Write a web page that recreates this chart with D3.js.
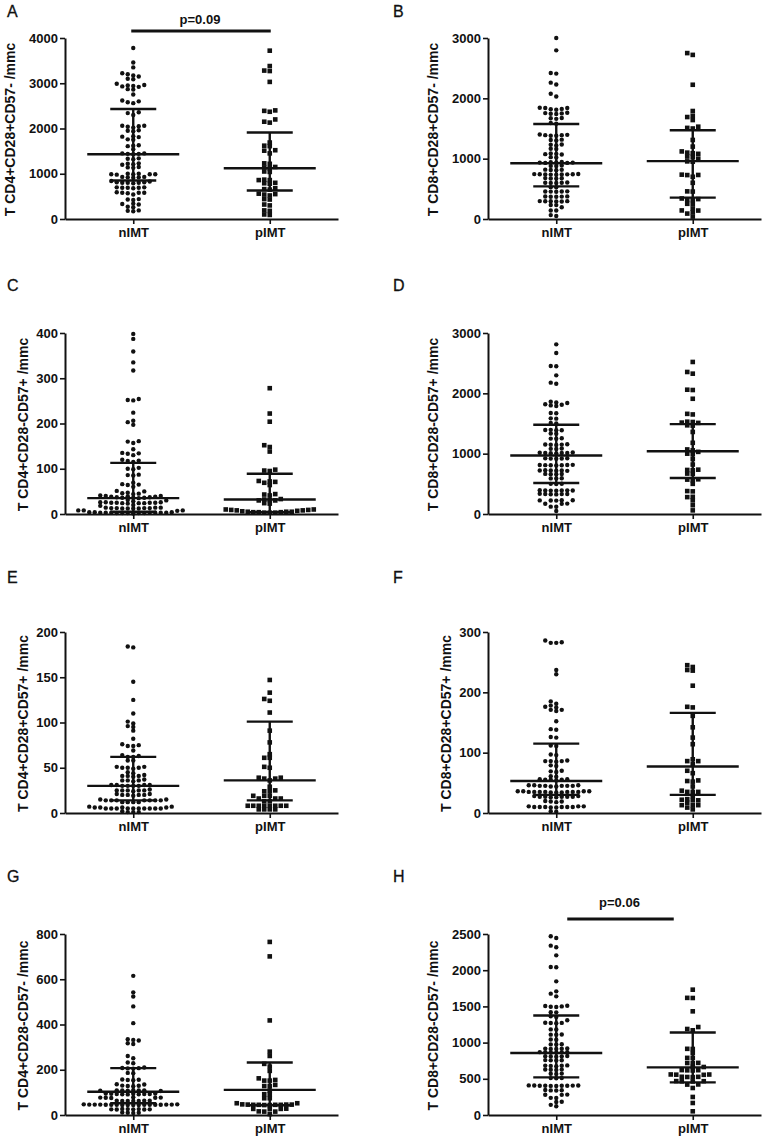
<!DOCTYPE html>
<html><head><meta charset="utf-8">
<script src="https://cdn.jsdelivr.net/npm/d3@7"></script>
<style>
body{margin:0;background:#fff;}
text{font-family:"Liberation Sans",Arial,Helvetica,sans-serif;fill:#111;}
</style>
</head><body>
<svg id="chart" width="764" height="1140"></svg>
<script>
// ---------------- DATA ----------------
const groups = ["nIMT", "pIMT"];
const panelLetters = ["A","B","C","D","E","F","G","H"];
const yTitles = [
  "T CD4+CD28+CD57- /mmc", "T CD8+CD28+CD57- /mmc",
  "T CD4+CD28-CD57+ /mmc", "T CD8+CD28-CD57+ /mmc",
  "T CD4+CD28+CD57+ /mmc", "T CD8+CD28+CD57+ /mmc",
  "T CD4+CD28-CD57- /mmc", "T CD8+CD28-CD57- /mmc"
];
const yMaxima = [4000, 3000, 400, 3000, 200, 300, 800, 2500];
const yTickValues = [
  [0,1000,2000,3000,4000], [0,1000,2000,3000],
  [0,100,200,300,400], [0,1000,2000,3000],
  [0,50,100,150,200], [0,100,200,300],
  [0,200,400,600,800], [0,500,1000,1500,2000,2500]
];
const pValueLabels = ["p=0.09", null, null, null, null, null, null, "p=0.06"];

const nIMT_A = [3780,3460,3350,3220,3200,3170,3150,3100,3090,2990,2960,2950,2940,2930,2920,2870,2860,2750,2620,2600,2580,2560,2360,2340,2300,2060,2060,2050,2040,2020,1960,1950,1940,1830,1820,1810,1760,1750,1630,1620,1610,1540,1450,1440,1440,1430,1450,1340,1330,1320,1230,1220,1210,1200,1150,1140,1130,1000,990,990,980,990,1000,990,930,920,910,920,930,840,830,810,800,800,790,800,810,700,690,690,680,700,690,590,580,580,570,580,540,440,430,420,340,330,320,270,260,190,170,180];
const pIMT_A = [3720,3380,3280,3270,3030,2400,2390,2370,2200,2150,2130,1690,1620,1610,1520,1510,1450,1230,1220,1150,1140,1120,1050,1040,870,860,860,790,780,800,680,660,650,560,550,540,520,430,440,320,300,190,180,90,100];

const nIMT_B = [3000,2795,2420,2410,2260,2230,2075,2030,1840,1820,1845,1825,1840,1810,1750,1755,1740,1760,1745,1670,1675,1660,1590,1580,1390,1400,1380,1395,1390,1380,1310,1300,1315,1230,1235,1220,1160,1165,1080,1085,1075,1070,1020,1025,940,935,930,935,945,930,938,880,885,878,815,818,812,810,740,742,738,745,735,736,741,744,739,675,678,670,672,600,602,598,605,597,525,528,455,458,452,456,454,370,372,368,375,371,295,290,297,293,291,296,230,232,195,140,142,65,50];
const pIMT_B = [2750,2720,2225,1790,1710,1690,1640,1530,1510,1500,1310,1200,1120,1080,1100,1090,1030,1035,1000,950,955,730,735,728,700,600,455,458,340,315,318,330,250,252,175,140,142,110,90,40];

const nIMT_C = [398,387,359,335,317,254,251,252,224,206,203,197,160,157,161,143,135,134,133,130,120,117,118,115,102,99,100,86,87,85,69,66,65,64,60,51,50,47,46,45,44,40,39,38,38,37,37,36,36,36,35,40,41,31,30,28,26,26,25,25,25,24,24,24,23,26,25,20,18,14,14,13,13,13,12,12,12,13,14,12,8,8,7,8,3,3,3,3,3,2,2,2,2,4,4,4,3,3,2,1];
const pIMT_C = [278,222,204,152,148,138,98,95,96,73,69,64,71,72,43,44,41,32,30,31,33,30,23,24,10,9,8,7,6,5,5,5,4,4,4,3,3,3,8,9,10];

const nIMT_D = [2812,2669,2453,2450,2298,2160,2177,1860,1850,1820,1810,1800,1790,1840,1670,1675,1580,1585,1510,1500,1390,1395,1388,1392,1330,1335,1250,1255,1248,1150,1152,1148,1155,1145,1080,1085,1078,1010,1012,1008,1015,1005,1011,1020,920,922,918,925,915,810,812,808,815,805,811,809,720,722,718,725,715,721,660,662,658,665,590,592,588,500,502,498,390,392,388,395,385,391,389,330,332,328,335,325,331,225,227,223,228,222,170,172,168,120,122,50];
const pIMT_D = [2520,2354,2326,2060,2055,1910,1650,1660,1470,1510,1525,1515,1465,1530,1360,1180,1070,1030,1055,990,1000,910,820,730,735,725,670,665,575,560,570,500,380,375,280,285,225,145,60];

const nIMT_E = [183,184,145,125,110,101,99,95,96,91,82,74,74,75,76,69,64,62,62,63,58,58,50,51,49,50,50,51,45,44,41,42,41,40,41,36,36,37,35,36,31,30,31,30,31,30,31,30,25,25,26,25,24,25,25,20,20,19,20,20,21,21,15,14,14,14,14,14,14,14,15,12,12,12,12,7,6,6,5,5,5,5,5,5,5,5,5,5,6,6,7,2,1,1,1];
const pIMT_E = [147,133,124,126,111,91,78,65,61,61,51,50,39,38,38,39,36,29,24,25,24,19,19,19,16,16,16,13,13,8,8,8,8,8,8,8,8,4,4,4,4];

const nIMT_F = [282,282,283,286,237,230,178,175,185,181,176,171,169,171,152,138,139,125,126,111,112,96,97,86,86,87,85,86,78,79,69,70,68,60,61,55,55,56,54,55,56,45,45,46,44,45,46,45,44,45,46,35,35,36,34,35,36,35,34,35,36,35,34,35,36,27,27,28,26,27,28,27,26,27,19,19,20,18,10,10,11,9,10,11,10,9,10,11,10,3,2];
const pIMT_F = [245,237,236,242,211,175,176,161,142,125,114,89,86,81,86,70,66,54,52,53,44,37,35,35,35,28,23,21,22,21,17,13,13,13,9,6];

const nIMT_G = [615,542,524,480,406,335,329,317,314,332,261,251,232,229,207,208,210,206,205,185,186,155,156,154,157,135,136,128,129,127,130,108,109,107,110,106,108,109,107,93,94,92,95,91,93,94,92,93,95,76,77,75,78,76,77,62,63,62,63,62,63,62,45,46,44,47,45,46,44,45,46,45,44,47,45,46,44,45,46,45,25,26,24,27,25,26,24,25,10,11,9,10];
const pIMT_G = [765,701,418,280,261,214,226,195,162,155,152,152,133,128,128,108,92,92,74,74,52,52,45,46,44,45,47,45,46,44,45,46,27,27,28,26,15,15,16,4];

const nIMT_H = [2468,2445,2339,2316,2205,2040,2044,1846,1708,1676,1639,1492,1510,1500,1495,1505,1418,1420,1354,1363,1308,1270,1272,1268,1275,1180,1182,1110,1112,1108,1040,1042,975,977,973,915,917,913,918,912,865,867,863,868,862,866,810,812,808,815,805,755,757,753,758,680,682,678,685,675,625,627,623,628,570,572,568,510,512,508,405,407,403,408,402,406,404,409,401,405,340,342,338,345,280,282,278,235,237,180,182,140,120];
const pIMT_H = [1731,1616,1618,1432,1188,1215,1170,912,914,856,787,789,718,720,716,663,665,617,619,615,620,557,559,555,560,525,527,523,528,465,467,463,468,420,422,373,249,166,51];

const nIMT_values = [nIMT_A, nIMT_B, nIMT_C, nIMT_D, nIMT_E, nIMT_F, nIMT_G, nIMT_H];
const pIMT_values = [pIMT_A, pIMT_B, pIMT_C, pIMT_D, pIMT_E, pIMT_F, pIMT_G, pIMT_H];

// [median, Q1, Q3]
const nIMT_summary = [[1430,850,2430],[925,540,1575],[35,5,113],[970,515,1480],[30,14,62],[53,30,115],[103,52,207],[856,520,1375]];
const pIMT_summary = [[1120,630,1910],[960,355,1470],[32,4,89],[1040,597,1490],[36,14,101],[77,30,166],[111,43,232],[658,450,1140]];

// ---------------- LAYOUT ----------------
const colAxisX = [65, 488];
const letterX = [7, 393];
const rowTop = [38, 333, 632, 934];
const letterBaseline = [17, 291, 583, 882];
const plotH = 181, axisW = 273;
const medHalf = 46, iqrHalf = 23;
const colStep = 5.5, minDy = 3.6;
const ink = "#111";

const svg = d3.select("#chart");

function swarm(values, y, cx) {
  const pts = values.map(v => ({v, y: y(v)})).sort((a, b) => b.y - a.y);
  const cols = new Map();
  const out = [];
  for (const p of pts) {
    for (let k = 0; k < 200; k++) {
      const off = k === 0 ? 0 : (k % 2 === 1 ? -Math.ceil(k / 2) : Math.ceil(k / 2));
      const list = cols.get(off) || [];
      if (list.every(yy => Math.abs(yy - p.y) >= minDy)) {
        list.push(p.y); cols.set(off, list);
        out.push({v: p.v, x: cx + off * colStep, y: p.y});
        break;
      }
    }
  }
  return out;
}

panelLetters.forEach((letter, i) => {
  const col = i % 2, row = Math.floor(i / 2);
  const ax = colAxisX[col], top = rowTop[row], bottom = top + plotH;
  const g = svg.append("g");

  const y = d3.scaleLinear().domain([0, yMaxima[i]]).range([bottom, top]);
  const x = d3.scalePoint().domain(groups).range([ax, ax + axisW]).padding(0.5);

  // panel letter
  g.append("text").attr("x", letterX[col]).attr("y", letterBaseline[row])
    .attr("font-size", 16).attr("stroke", ink).attr("stroke-width", 0.3).text(letter);

  // points
  const sets = [nIMT_values[i], pIMT_values[i]];
  sets.forEach((vals, gi) => {
    const pts = swarm(vals, y, x(groups[gi]));
    if (gi === 0) {
      g.append("g").selectAll("circle").data(pts).join("circle")
        .attr("cx", d => d.x).attr("cy", d => d.y).attr("r", 2.2).attr("fill", ink);
    } else {
      const s = 4.6;
      g.append("g").selectAll("rect").data(pts).join("rect")
        .attr("x", d => d.x - s / 2).attr("y", d => d.y - s / 2)
        .attr("width", s).attr("height", s).attr("fill", ink);
    }
  });

  // median + IQR
  [nIMT_summary[i], pIMT_summary[i]].forEach((st, gi) => {
    const cx = x(groups[gi]);
    const [med, q1, q3] = st;
    const lg = g.append("g").attr("stroke", ink).attr("stroke-width", 2.4);
    lg.append("line").attr("x1", cx - medHalf).attr("x2", cx + medHalf).attr("y1", y(med)).attr("y2", y(med));
    lg.append("line").attr("x1", cx - iqrHalf).attr("x2", cx + iqrHalf).attr("y1", y(q1)).attr("y2", y(q1));
    lg.append("line").attr("x1", cx - iqrHalf).attr("x2", cx + iqrHalf).attr("y1", y(q3)).attr("y2", y(q3));
    lg.append("line").attr("x1", cx).attr("x2", cx).attr("y1", y(q1)).attr("y2", y(q3));
  });

  // y axis
  const yAx = g.append("g").attr("transform", `translate(${ax},0)`)
    .call(d3.axisLeft(y).tickValues(yTickValues[i]).tickSize(5).tickPadding(2).tickSizeOuter(0).tickFormat(d3.format("d")));
  yAx.select(".domain").attr("stroke", ink).attr("stroke-width", 2);
  yAx.selectAll(".tick line").attr("stroke", ink).attr("stroke-width", 1.6);
  yAx.selectAll(".tick text").attr("font-size", 13).attr("font-weight", "bold")
    .attr("font-family", '"Liberation Sans",Arial,sans-serif').attr("fill", ink);

  // x axis
  const xAx = g.append("g").attr("transform", `translate(0,${bottom})`)
    .call(d3.axisBottom(x).tickSize(5).tickPadding(4).tickSizeOuter(0));
  xAx.select(".domain").attr("stroke", ink).attr("stroke-width", 2);
  xAx.selectAll(".tick line").attr("stroke", ink).attr("stroke-width", 1.6);
  xAx.selectAll(".tick text").attr("font-size", 13).attr("font-weight", "bold")
    .attr("font-family", '"Liberation Sans",Arial,sans-serif').attr("fill", ink);

  // y title
  const digits = String(yMaxima[i]).length;
  const titleX = ax - (digits >= 4 ? 50 : 37);
  g.append("text").attr("transform", `translate(${titleX},${(top + bottom) / 2 + 1}) rotate(-90)`)
    .attr("text-anchor", "middle").attr("font-size", 14).attr("font-weight", "bold").text(yTitles[i]);

  // p value bar
  if (pValueLabels[i]) {
    let x0, x1, by, tx, ty;
    if (row === 0) { x0 = x("nIMT") - 2; x1 = x("pIMT") + 1; by = top - 7; ty = top - 14; }
    else { x0 = x("nIMT") + 11; x1 = x("pIMT") - 19; by = top - 15; ty = top - 27; }
    tx = (x0 + x1) / 2 - 1;
    g.append("line").attr("x1", x0).attr("x2", x1).attr("y1", by).attr("y2", by)
      .attr("stroke", ink).attr("stroke-width", 3);
    g.append("text").attr("x", tx).attr("y", ty).attr("text-anchor", "middle")
      .attr("font-size", 13).attr("font-weight", "bold").text(pValueLabels[i]);
  }
});
</script>
</body></html>
